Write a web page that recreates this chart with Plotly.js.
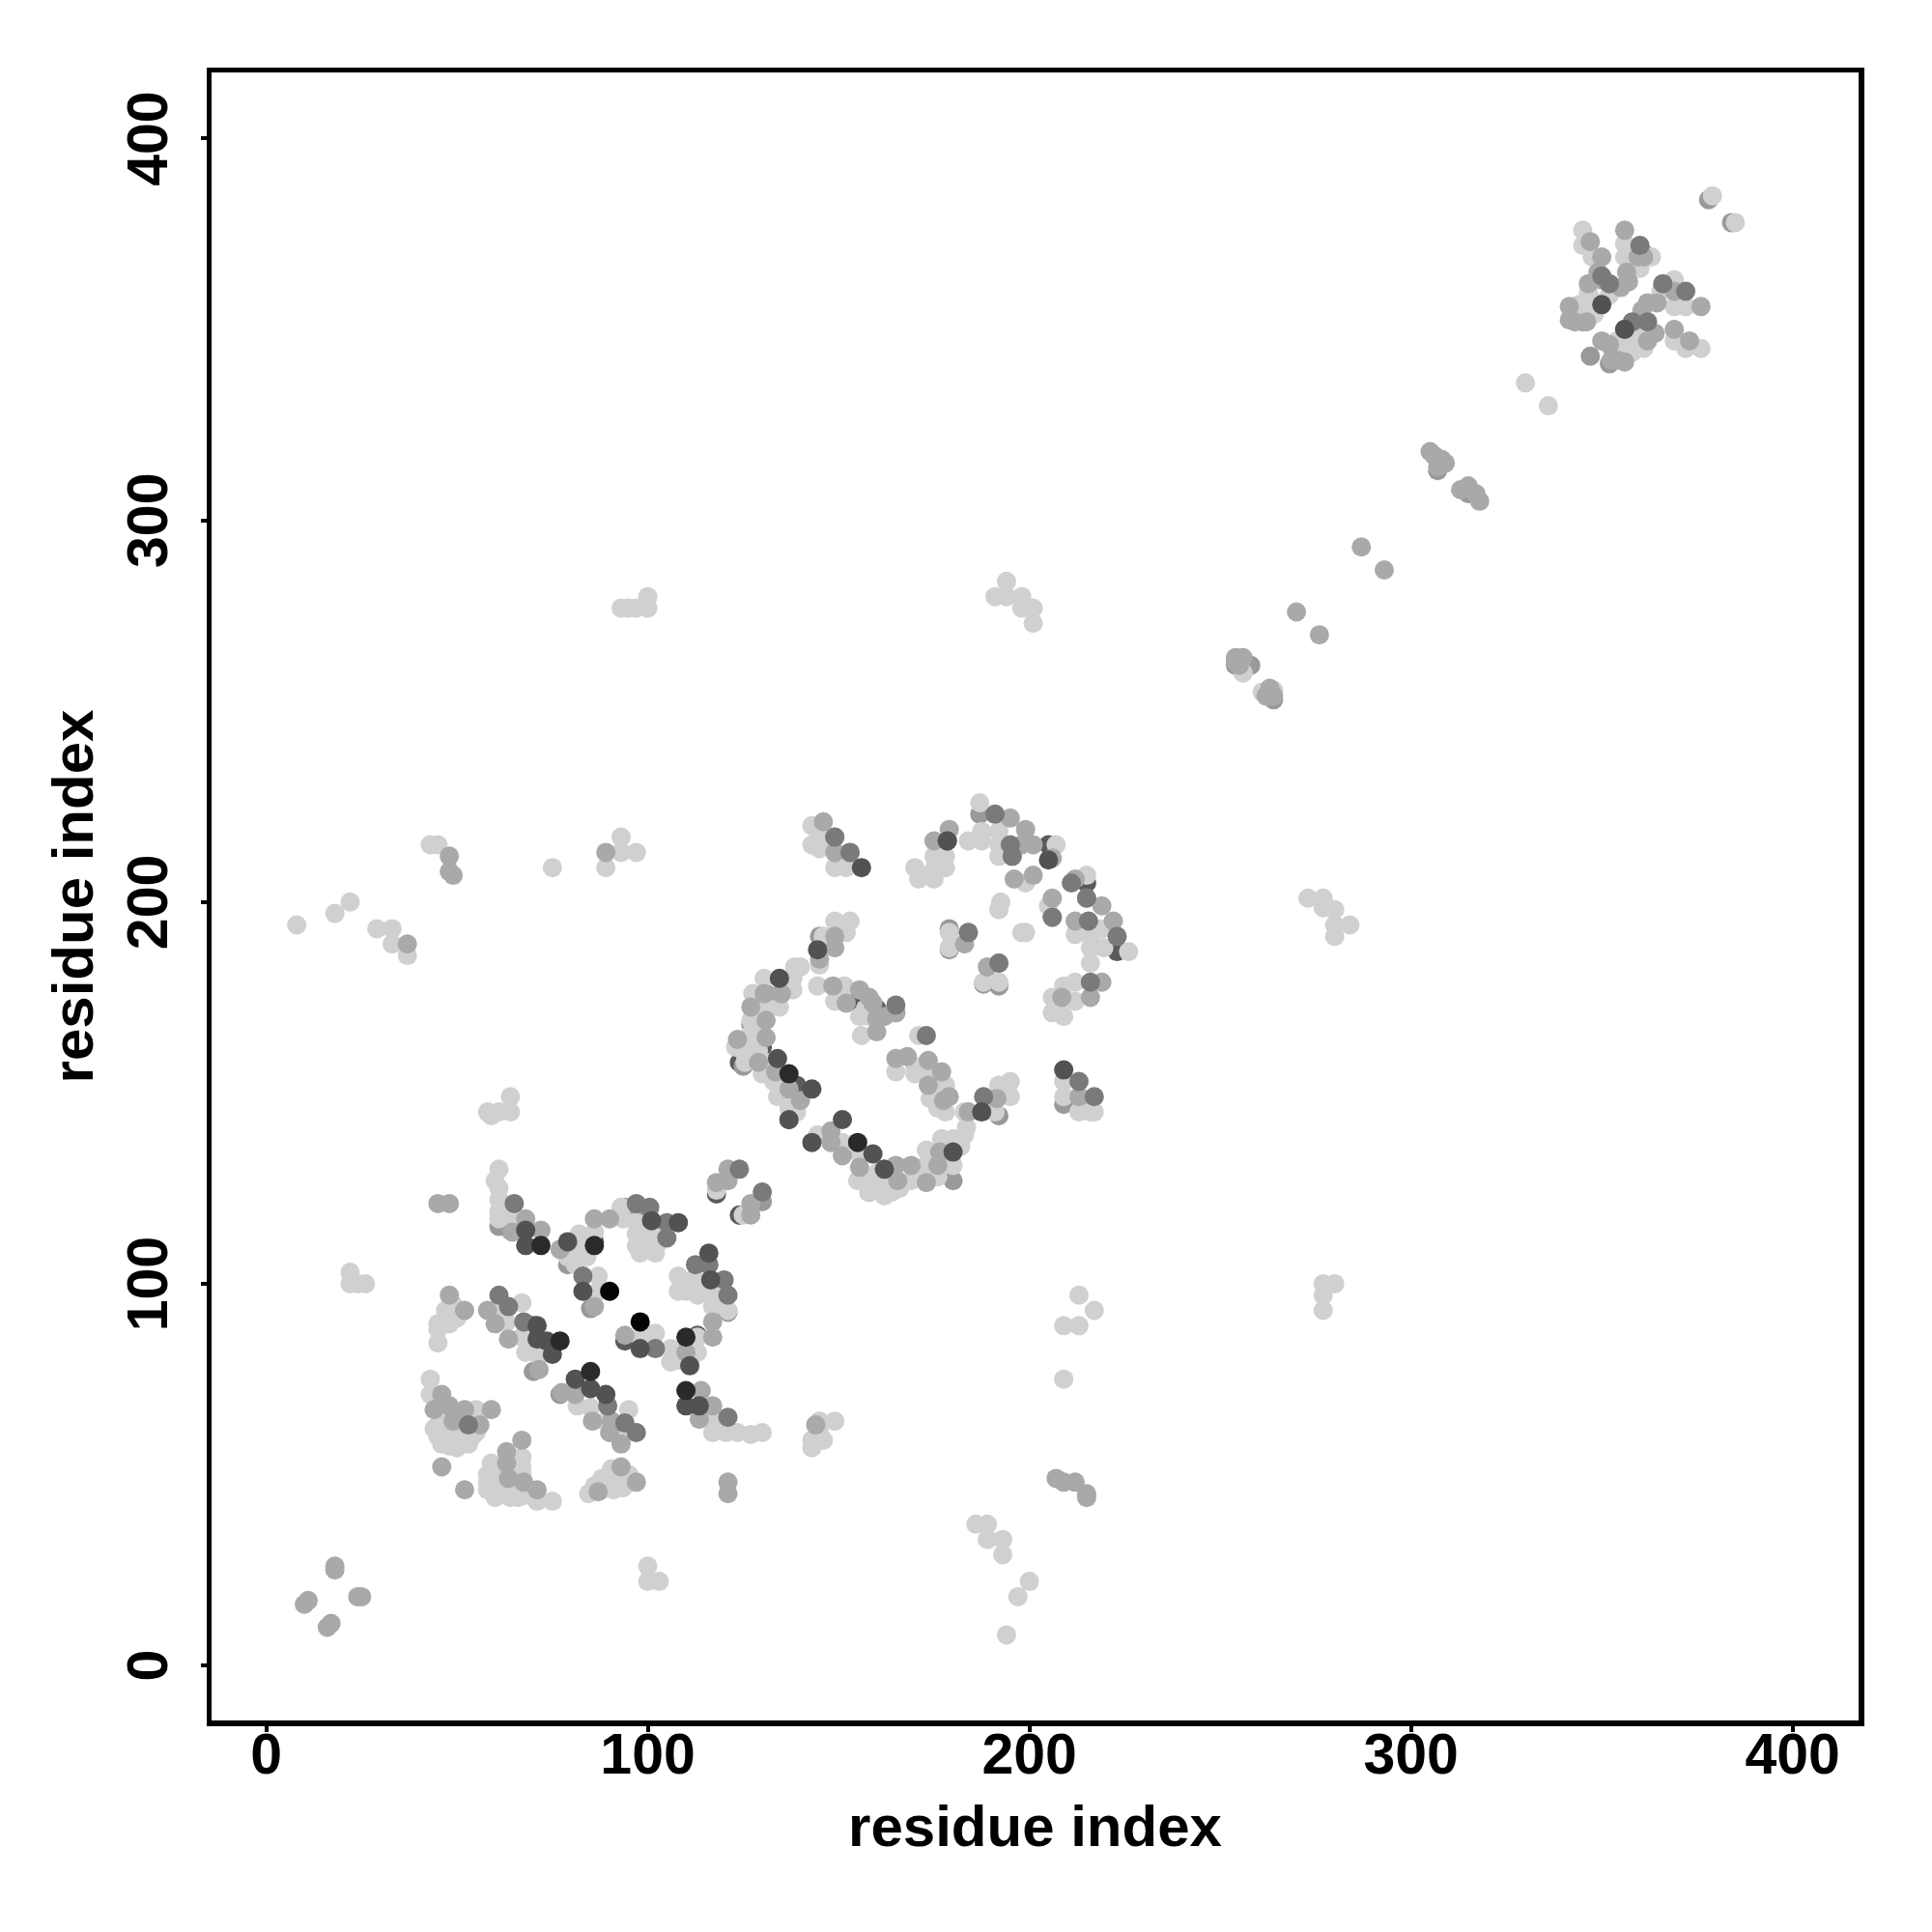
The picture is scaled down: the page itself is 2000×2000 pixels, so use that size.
<!DOCTYPE html>
<html><head><meta charset="utf-8">
<script src="https://cdn.plot.ly/plotly-3.0.1.min.js"></script>
<style>html,body{margin:0;padding:0;background:#fff}</style></head>
<body><div id="chart" style="width:2000px;height:2000px"></div>
<script>
const tickValues=[0,100,200,300,400];
const axisTitle="residue index";
// contacts drawn underneath (partly hidden by lighter points)
const underDark=[[118,123.5],[124,118],[205,215],[215,205],[130,162],[135,176],[223,187],[356,350],[366,361],[86,111],[113,86.5],[70,89],[94,85],[155,174],[158,124],[124,158],[137,143],[139,152],[160,172]];
const underMid=[[130,121.5],[145,191],[187,223],[179,193],[179,187.5],[188,178.5],[192,178],[165,171],[61,115],[64,114],[93,59],[70,77],[77,71],[79,105],[121,92.5],[85,93.5],[378,384],[384,378],[136,150],[127,168],[131,176],[176,133],[192,144],[258,262],[264,253],[360,368],[343,353],[347,343],[361,370],[345,352],[209,147],[213,148],[125,157],[180,127],[98,120],[94,120],[255,263],[307,313],[315,307],[254,262],[352,341]];
// lightest contacts
const light=[[61,130],[60,127],[61,125],[61,122],[61,119],[61,117],[64,117],[79,107],[82,107],[80,109],[83,110],[82,113],[86,113.5],[93,120],[93.5,117],[97,116],[101,113],[97,113],[98,108],[102,108],[100,110],[108,102],[112,101],[113,101],[108,98],[110,98],[113,97],[117,97],[117,94],[121,93],[113,86],[113,82],[106,83],[106,79.5],[108,80],[87,102],[87,98],[98,86],[102,87],[100,87],[49,94.5],[47,93],[50.5,92],[45,89.5],[45,84.5],[45,88],[48,89.5],[50,91],[60.5,93],[67,95],[63,90],[67,86],[71.5,81],[68,82],[81.5,68],[85,67.5],[89,64],[95,67],[93.5,60],[117,64.5],[117,61],[120.5,61],[123.5,61],[127,60.5],[130,61],[43,75],[43,71],[55,67],[45,63],[45,60],[48,59],[52,59],[54,60],[48,57.5],[50,60],[47,62],[67,54.5],[59,53],[58.5,49],[67.5,44.5],[71,43],[75,43],[61,45],[58,46],[60,47],[84.5,45],[88,49],[90.5,49],[93,49],[90.5,51.5],[93.5,46.5],[89,47],
[46,65],[47,60],[49,62],[51,62],[52,61],[50,57],[46,58],[53,58],[55,61],[44,62],[46,60],[47,67],[58,50],[60,50],[61,52],[62,48],[60,44],[63,45],[65,45],[64,47],[58,48],[66,44],[62,51],[65,52],[67,50],[67,52],[69,46],[64,44],[86,47],[88,46],[92,47],[91,46],[95,50],[90,47],[82,108],[84,107],[81,105],[79,109],[99,111],[99,115],[97,110],[103,111],[110,100],[114,99],[118,95],[120,95],
[118,124.5],[125,118],[153,195],[149,195],[152,192],[146,191],[145,183.5],[140,183],[138.5,183],[130.5,180],[138,180],[127.5,176],[138,177],[130.5,172.5],[134.5,172.5],[127,169],[127,165.5],[123,162],[126,164],[125.5,158],[130,155],[137,148],[139,145],[144.5,178],[151.5,178],[149,174],[155.5,170],[156,165],[171,165],[165,155.5],[170,157],[178,152],[178,145],[174,148.5],[209,153],[209,149],[213,145],[217,145],[144.5,139],[151,137],[155.5,134],[158.5,126.5],[158,124],[162,123],[164,124],[169,127],[176,128],[173,135],[173,131],[177,138],[180,131],[180,138],[183,139],[183.5,141],[182,136],[183,145],[191,145],[195,149],[192,152],[195,153],
[128,160],[125,161],[127,162],[128,167],[132,158],[133,153],[135,150],[129,161],[134,149],[137,146],[155,127],[157,128],[160,126],[160,129],[163,127],[166,125],[170,128],[172,129],[174,133],[178,134],[158,170],[157,172],[174,155],[175,150],[176,146],[172,156],[170,155],
[187,226],[187.5,218.5],[184,216],[187.5,216],[192,218.5],[192,212],[192,215],[207,215],[178,212],[175,212],[170,209],[175,208.5],[171,206],[175,206],[178,209],[172,207],[199,205],[192.5,200],[192,198],[199,192],[198,192],[179,192],[179,188],[192,179],[188,179],[215,207],[205,199],[212,191.5],[216,191],[219,193],[216,188],[219.5,188],[226,187],[216,184],[209,178],[212,179],[206,175],[212,174],[206,171],[209,170],[208,171],
[379,385],[385,378],[345,376],[345,372],[347.5,369],[356,372.5],[363,369],[356,369],[360,366],[346.5,359.5],[352,359],[344,356.5],[348,354],[346,355],[369,363],[365.5,360],[372,356],[369,356],[359.5,351],[369,347],[372,345],[376,345],[355.5,347],[358,348],[353,344],[359,349],
[349,357],[347,357],[345,354],[354,347],[357,345],[360,349],[358,344],[355,344],[361,345],
[22,103],[22,100],[24,100],[26,100],[8,194],[18,197],[22,200],[29,193],[33,193],[33,189],[37,186],[43,215],[45,215],[75,209],[89,209],[93,217],[93,213],[97,213],[58,145],[59,144],[61,145],[64,149],[64,145],[93,277],[97,277],[100,280],[100,277],[95,277],[191,280],[194,284],[194,280],[198,280],[198,277],[201,277],[201,273],[330,336],[336,330],[273,201],[277,201],[277,198.5],[280,198],[280,194],[284,194],[280,191],[277,100],[280,100],[277,97],[277,93],[213,97],[209,89],[213,89],[217,93],[209,75],[145,64],[149,64],[143,59],[146,59],[145,61],[143,57],[100,26],[100,22],[103,22],[186,37],[189,37],[189,33],[193,33],[193,29],[200,22],[197,18],[194,8],[143,220],[145,217],[145,214],[143,215],[149,209],[152,209],[216,145],[261,255],[264,255.5],[255,264],[256,260]];
// mid grey contacts
const mid=[[45,121],[48,121],[68,117],[72,114],[64.5,113.5],[86,117],[90,117],[77,109],[117,90],[117,86],[110,82],[86,94],[94,86.5],[48,97],[52,93],[58,93],[60,89.5],[63.5,85.5],[71.5,77.5],[77.5,71.5],[81,71],[85.5,64],[90.5,64],[90,61],[93,58],[114,72],[117,68],[113.5,64.5],[46,71],[48,68],[44,67],[59,67],[52,67],[49,64],[56,63],[46,52],[52,46],[67,59],[63,56],[63,53],[63.5,49],[67.5,48],[71,46],[87,45.5],[93,52],[97,48],[121,48],[121,45],[121,130],[118,126.5],[121,127],[127,121],[127,118],[149,191],[149,188],[145,185],[130.5,176],[135,176],[127,172.5],[131,169],[131,164.5],[123.5,164],[129,158],[133.5,155.5],[137,151],[140,148],[148.5,178],[155.5,177],[152,173.5],[159,173.5],[160,169.5],[160,166],[165,171],[165,159],[168,159.5],[173.5,158.5],[177,155.5],[177.5,148],[173.5,152],[213,149],[148,140],[148,137],[151,133.5],[155.5,130.5],[165,131],[169,131],[165.5,127],[173,126.5],[176,131],[176.5,134.5],[184,145],[191.5,148.5],[158,175],[162,170],[179,149],[350,347],[354,342],
[195,222],[199,219],[195.5,212],[198,215],[201,215],[206,211.5],[179,219],[175,216],[196,206],[201,207],[184,192],[183,189],[192,184],[189,183],[212,206],[215,201],[219,199],[206,201],[206,196],[212,195],[222,195],[219,179],[216,175],[208.5,175],[356,376],[347,373],[350,369],[361,369],[359.5,369],[356.5,365],[357,362.5],[355,361],[350,363],[349,365],[346.5,362],[341.5,356],[341.5,352.5],[343,352],[346,352],[369,360],[376,356],[364.5,357],[362,357],[360.5,355],[364,349],[362,347],[369,350],[373,347],[352,346],[352.5,342],[356,341.5],
[10,16],[11,17],[18,25],[18,26],[24,18],[25,18],[16,10],[17,11],[48,212],[48,208],[49,207],[89,213],[254,264],[256,264],[254,263],[255,262],[262,254],[264,254],[263,256],[270,276],[276,270],[287,293],[293,287],[305,318],[308,316],[307,314],[309,315],[313,308],[315,309],[317,307],[318,305],[306,317],[207,49],[209,48],[212,48],[215,45],[215,44],[37,189],[146,221],[149,217],[149,213],[153,213],[144,63]];
// darker grey contacts
const midDark=[[65,121],[97,121],[100.5,120],[105,116],[105,112],[112.5,105],[116,105],[120,101],[121,97],[83,102],[102,83],[61,97],[63.5,94],[67.5,90],[89.5,68],[94,63.5],[97,61],[121,65],[53,63],[124,130],[130,124],[165,173],[173,165],[213,153],[217,149],[188,149],[191,223],[195,215],[195.5,212],[178.5,216],[184,192],[192,184],[211,205],[215,201],[215.5,195],[206,196],[216,179],[223,191],[360,372],[352,362],[350,364],[372,360],[366,362],[362,352],[358,352],[153,213],[149,217]];
// dark contacts
const dark=[[68,114],[68,110],[79,111],[101,116.5],[108,116],[116,108],[116.5,101],[83,98],[98,83],[111,78.5],[71,89],[71,85.5],[73.5,85],[75,81.5],[81,75],[85,72.5],[89,71],[110,68],[113.5,68],[144.5,187.5],[134.5,180],[134,159],[137,143],[143,137],[159,134],[162,130],[187.5,145],[209,156],[178.5,216],[205,211],[350,356.5],[356,350],[156,209],[143,151],[151,143],[180,134.5]];
// nearly black contacts
const darkest=[[72,110],[86,110],[110,86],[77,85],[85,77],[110,72],[137,155],[155,137]];
const black=[[90,98],[98,90]];
const layers=[[underDark,"#5a5a5a"],[underMid,"#999999"],[light,"#d0d0d0"],[mid,"#a9a9a9"],[midDark,"#7a7a7a"],[dark,"#525252"],[darkest,"#2a2a2a"],[black,"#050505"]];
const traces=layers.map(([pts,c])=>({type:"scatter",mode:"markers",x:pts.map(p=>p[0]),y:pts.map(p=>p[1]),
 marker:{size:20,color:c,line:{width:0}},hoverinfo:"skip",showlegend:false}));
const fnt={family:"Liberation Sans, Arial, sans-serif",size:59,color:"#000",weight:700};
const ax={tickmode:"array",tickvals:tickValues,ticks:"outside",ticklen:6,tickwidth:4,tickcolor:"#000",
 showline:true,linewidth:5.5,linecolor:"#000",mirror:true,showgrid:false,zeroline:false,
 tickfont:fnt,automargin:false};
Plotly.newPlot("chart",traces,{
 width:2000,height:2000,margin:{l:218.7,r:75.7,t:74.7,b:219},paper_bgcolor:"#fff",plot_bgcolor:"#fff",showlegend:false,
 xaxis:{...ax,range:[-14.32,417.3],ticklabelstandoff:-27,title:{text:axisTitle,font:{...fnt,size:60},standoff:22}},
 yaxis:{...ax,range:[-14.42,417.33],tickangle:-90,ticklabelstandoff:11,ticklabelshift:0,title:{text:axisTitle,font:{...fnt,size:60},standoff:6}}
},{displayModeBar:false,staticPlot:true});
// rotated labels sit a few pixels off their ticks: nudge them back onto the tick
document.querySelectorAll(".ytick text").forEach(t=>{
  const b=t.getAttribute("transform")||"";
  t.setAttribute("transform","translate(0,9) "+b);
});
</script></body></html>
